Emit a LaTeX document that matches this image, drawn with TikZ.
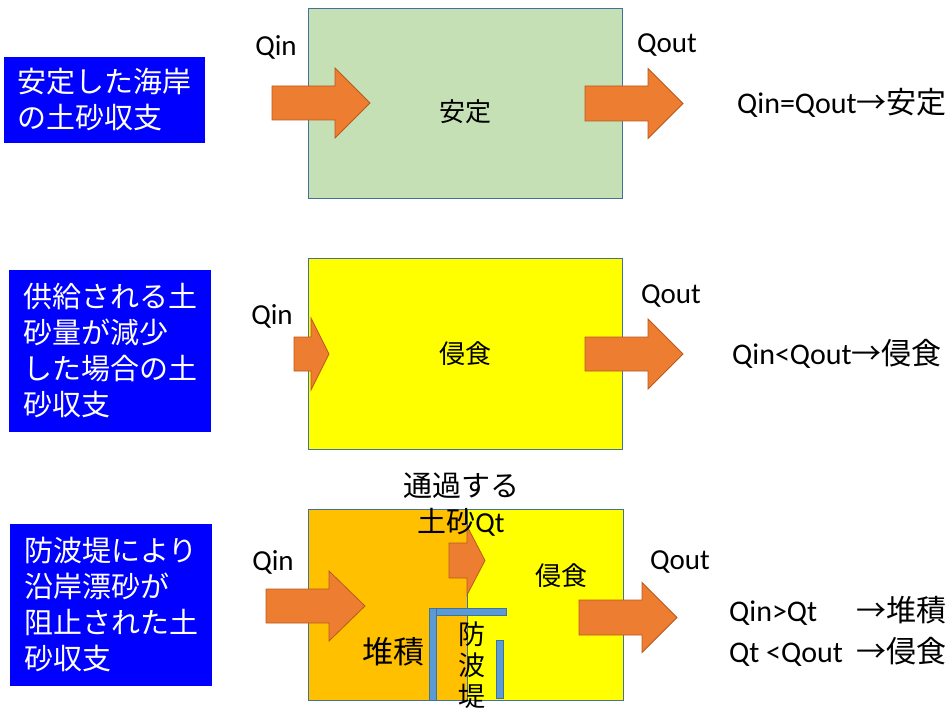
\documentclass[tikz,border=0pt]{standalone}
\usepackage{fontspec}
\setmainfont{Carlito}
\newfontfamily\jp{Noto Sans CJK JP}
\definecolor{stablegreen}{HTML}{C5E0B4}
\definecolor{panelline}{HTML}{41719C}
\definecolor{erosionyellow}{HTML}{FFFF00}
\definecolor{depositorange}{HTML}{FFC000}
\definecolor{flowfill}{HTML}{ED7D31}
\definecolor{flowline}{HTML}{B85A1E}
\definecolor{titleblue}{HTML}{0000FF}
\definecolor{wallblue}{HTML}{5B9BD5}
\tikzset{
  panel/.style={rectangle, draw=panelline, line width=1.2pt, anchor=north west, inner sep=0pt},
  title box/.style={rectangle, fill=titleblue, text=white, inner sep=0pt, minimum width=202pt,
    minimum height=162pt, text width=174pt, align=left, font=\jp\fontsize{29}{36}\selectfont},
  flow/.style={fill=flowfill, draw=flowline, line width=0.8pt, line join=miter},
  wall/.style={fill=wallblue, draw=panelline, line width=0.6pt},
  qlabel/.style={inner sep=0pt, font=\fontsize{29}{34}\selectfont},
  jlabel/.style={inner sep=0pt, font=\jp\fontsize{27}{33}\selectfont},
  balance/.style={inner sep=0pt, anchor=west, align=left, font=\fontsize{30}{41}\selectfont}
}
\begin{document}
\begin{tikzpicture}[x=1pt, y=-1pt]
\useasboundingbox (0,0) rectangle (952,711);

% blue titles on the left
\node [title box, minimum width=201pt, minimum height=86pt] (title-stable) at (104.5,100)
  {安定した海岸\\の土砂収支};
\node [title box] (title-erosion) at (110,351)
  {供給される土\\砂量が減少\\した場合の土\\砂収支};
\node [title box] (title-wall) at (111,605)
  {防波堤により\\沿岸漂砂が\\阻止された土\\砂収支};

% coastal cells
\node [panel, fill=stablegreen, minimum width=314pt, minimum height=190pt] (cell-stable) at (308,8) {};
\node [panel, fill=erosionyellow, minimum width=314pt, minimum height=191pt] (cell-erosion) at (308,258) {};
\node [panel, fill=depositorange, minimum width=159pt, minimum height=191pt] (cell-updrift) at (308,509) {};
\node [panel, fill=erosionyellow, minimum width=156pt, minimum height=191pt] (cell-downdrift) at (467,509) {};

% sand flows
\foreach \xa/\xh/\xb/\yc/\s/\h in {272/335/370/103/17/35, 585/648/683/103.5/17.5/35,
    294/311/329/354/17/36, 585/648/683/354/17/35,
    266/329/365/606/17/35, 449/467/485/560.5/17.5/34.5, 579/642/677/617.5/17.5/35}
  \draw [flow] (\xa,\yc-\s) -- (\xh,\yc-\s) -- (\xh,\yc-\h) -- (\xb,\yc)
    -- (\xh,\yc+\h) -- (\xh,\yc+\s) -- (\xa,\yc+\s) -- cycle;

% breakwater
\draw [wall] (429,608) rectangle (506,615);
\draw [wall] (429,608) rectangle (436,700);
\draw [wall] (496,640) rectangle (503,698);

% labels
\node [jlabel, font=\jp\fontsize{26}{30}\selectfont] (state-stable) at (465,112) {安定};
\node [jlabel, font=\jp\fontsize{26}{30}\selectfont] (state-erosion) at (465,354) {侵食};
\node [jlabel, font=\jp\fontsize{26}{30}\selectfont] (state-downdrift) at (561,576) {侵食};
\node [jlabel, font=\jp\fontsize{31}{34}\selectfont] (state-updrift) at (393,652) {堆積};
\node [jlabel, align=center, font=\jp\fontsize{27}{31}\selectfont] (wall-name) at (472,665) {防\\波\\堤};
\node [jlabel, align=center, font=\jp\fontsize{29}{36}\selectfont] (qt-name) at (461,505)
  {通過する\\土砂{\fontspec{Carlito}Qt}};

\node [qlabel] (qin-stable) at (276,47) {Qin};
\node [qlabel] (qout-stable) at (667,45) {Qout};
\node [qlabel] (qin-erosion) at (272,316) {Qin};
\node [qlabel] (qout-erosion) at (671,296) {Qout};
\node [qlabel] (qin-wall) at (273,562) {Qin};
\node [qlabel] (qout-wall) at (680,562) {Qout};

\node [balance] (balance-stable) at (737,103) {Qin=Qout{\jp →安定}};
\node [balance] (balance-erosion) at (732,354) {Qin{\textless}Qout{\jp →侵食}};
\node [balance] (balance-wall) at (729,631)
  {\makebox[127pt][l]{Qin{\textgreater}Qt}{\jp →堆積}\\\makebox[127pt][l]{Qt {\textless}Qout}{\jp →侵食}};
\end{tikzpicture}
\end{document}
